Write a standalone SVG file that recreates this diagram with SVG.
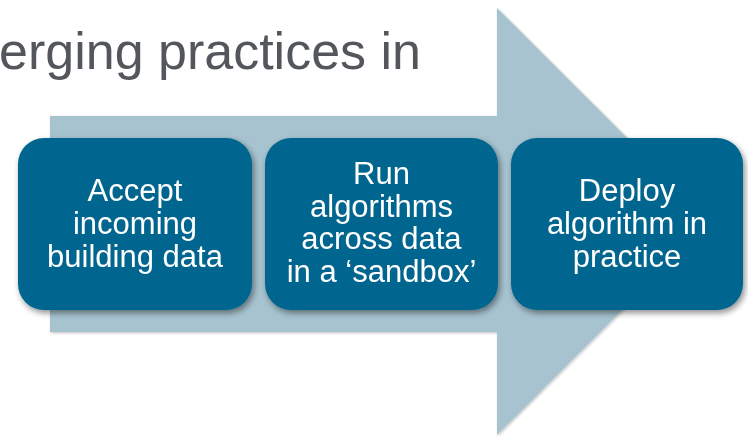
<svg xmlns="http://www.w3.org/2000/svg" width="748" height="438" viewBox="0 0 748 438">
<defs>
<style>
.box{fill:#04668f;}
.lbl{font-family:"Liberation Sans",Arial,sans-serif;font-size:31px;fill:#ffffff;text-anchor:middle;}
.title{font-family:"Liberation Sans",Arial,sans-serif;font-size:52px;fill:#53565a;text-anchor:end;}
</style>
<filter id="sh" x="-10%" y="-10%" width="125%" height="130%">
<feGaussianBlur in="SourceAlpha" stdDeviation="3"/>
<feOffset dx="2" dy="3" result="b"/>
<feComponentTransfer><feFuncA type="linear" slope="0.45"/></feComponentTransfer>
<feMerge><feMergeNode/><feMergeNode in="SourceGraphic"/></feMerge>
</filter>
<filter id="ash" x="-5%" y="-5%" width="110%" height="110%">
<feGaussianBlur in="SourceAlpha" stdDeviation="1.5"/>
<feOffset dx="1" dy="1"/>
<feComponentTransfer><feFuncA type="linear" slope="0.25"/></feComponentTransfer>
<feMerge><feMergeNode/><feMergeNode in="SourceGraphic"/></feMerge>
</filter>
</defs>
<rect width="748" height="438" fill="#ffffff"/>
<text class="title" x="421" y="69">erging practices in</text>
<g id="arrow">
<polygon points="50,116 497,116 497,8 711,221.5 497,435 497,332 50,332" fill="#a6c3cf" filter="url(#ash)"/>
</g>
<g id="connectors"></g>
<g id="node1" filter="url(#sh)">
<rect class="box" x="18" y="138" width="234" height="172" rx="26"/>
<text class="lbl" x="135" y="201">Accept</text>
<text class="lbl" x="135" y="234">incoming</text>
<text class="lbl" x="135" y="267">building data</text>
</g>
<g id="node2" filter="url(#sh)">
<rect class="box" x="265" y="138" width="233" height="172" rx="26"/>
<text class="lbl" x="381.5" y="184">Run</text>
<text class="lbl" x="381.5" y="217">algorithms</text>
<text class="lbl" x="381.5" y="249">across data</text>
<text class="lbl" x="381.5" y="282">in a ‘sandbox’</text>
</g>
<g id="node3" filter="url(#sh)">
<rect class="box" x="511" y="138" width="232" height="172" rx="26"/>
<text class="lbl" x="627" y="201">Deploy</text>
<text class="lbl" x="627" y="234">algorithm in</text>
<text class="lbl" x="627" y="267">practice</text>
</g>
</svg>
